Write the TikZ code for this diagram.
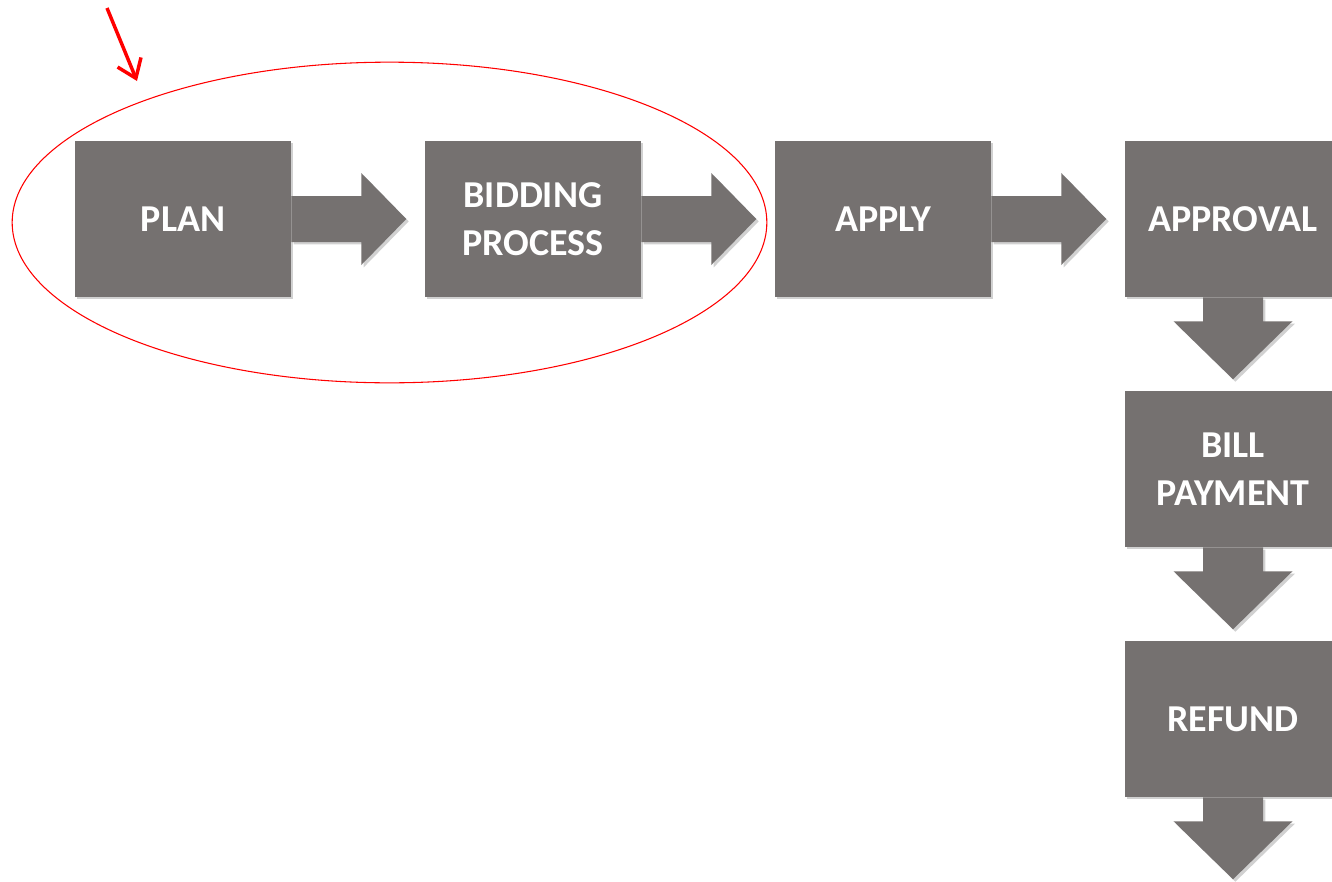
\documentclass[tikz,border=0pt]{standalone}
\usepackage{fontspec}
\setmainfont{Carlito}
\usetikzlibrary{shapes.geometric,arrows.meta,shadows}
\definecolor{boxgrey}{HTML}{757170}
\tikzset{
  softshadow/.style={drop shadow={shadow xshift=1.8pt, shadow yshift=-1.8pt, opacity=0.18, fill=black}},
  stepbox/.style={fill=boxgrey, minimum width=162pt, minimum height=117pt, inner sep=0pt,
    text=white, align=center, font=\fontsize{28.5}{36}\selectfont\bfseries, softshadow},
  blockarrow/.style={fill=boxgrey, softshadow},
}
\begin{document}
\begin{tikzpicture}[x=0.75pt,y=-0.75pt]
\useasboundingbox (0,0) rectangle (1332,882);
\fill[white] (0,0) rectangle (1332,882);
\node[stepbox] (plan) at (183,219) {PLAN};
\node[stepbox] (bid) at (533,219) {BIDDING\\PROCESS};
\node[stepbox] (apply) at (883,219) {APPLY};
\node[stepbox] (appr) at (1233,219) {APPROVAL};
\node[stepbox] (bill) at (1233,469) {BILL\\PAYMENT};
\node[stepbox] (ref) at (1233,719) {REFUND};
% horizontal block arrows
\foreach \a in {plan,bid,apply}{
  \path[blockarrow] (\a.east) ++(0,-23) -- ++(70,0) -- ++(0,-23) -- ++(45,46) -- ++(-45,46) -- ++(0,-23) -- ++(-70,0) -- cycle;
}
% vertical block arrows
\foreach \a in {appr,bill,ref}{
  \path[blockarrow] (\a.south) ++(-30,0) -- ++(0,24) -- ++(-29.5,0) -- ++(59.5,58) -- ++(59.5,-58) -- ++(-29.5,0) -- ++(0,-24) -- cycle;
}
% red ellipse and pointer
\node[draw=red, line width=0.8pt, ellipse, minimum width=566pt, minimum height=240.5pt, inner sep=0pt] (grp) at (389.5,222.5) {};
\coordinate (ptr) at (107,8);
\coordinate (ptrtip) at (137,81);
\draw[red, line width=2.6pt, -{Straight Barb[length=13pt,width=19pt]}] (ptr) -- (ptrtip);
\end{tikzpicture}
\end{document}
